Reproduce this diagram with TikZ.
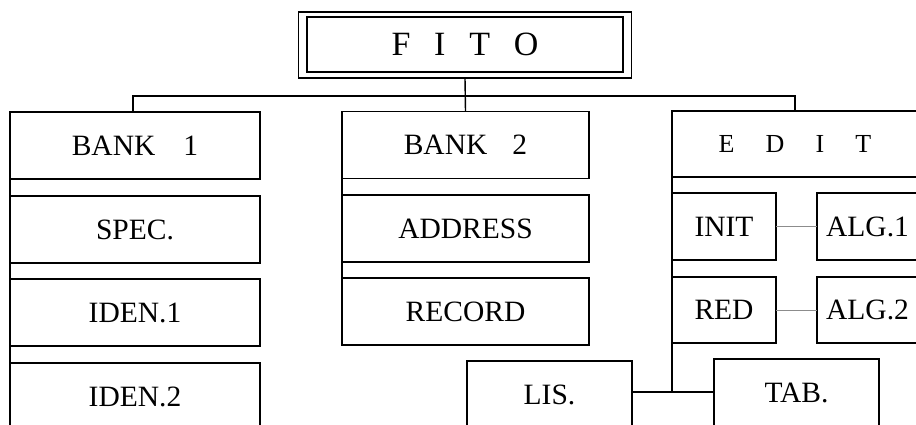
\documentclass[tikz,border=0pt]{standalone}
\usepackage{fontspec}
\setmainfont{Liberation Serif}
\begin{document}
\begin{tikzpicture}[x=1pt,y=-1pt,
  box/.style={draw, line width=1.4pt, inner sep=0pt, outer sep=0pt, minimum height=67pt,
    font=\fontsize{29.5}{32}\selectfont},
  conn/.style={line width=1.4pt},
  faint/.style={draw=black!45, line width=0.7pt}]
\useasboundingbox (0,0) rectangle (916,424);
\clip (0,0) rectangle (916,424);
% title
\node[draw, line width=1.4pt, outer sep=0pt, minimum width=333pt, minimum height=66pt] (fitoout) at (465,45) {};
\node[draw, line width=1.4pt, inner sep=0pt, outer sep=0pt, minimum width=316pt, minimum height=55pt,
  font=\fontsize{34}{36}\selectfont] (fito) at (465,44.5)
  {F\hspace{0.7em}I\hspace{0.7em}T\hspace{0.7em}O};
% column 1
\node[box, minimum width=250pt] (bank1) at (135,145.5) {BANK\hspace{0.95em}1};
\node[box, minimum width=250pt] (spec) at (135,229.5) {SPEC.};
\node[box, minimum width=250pt] (iden1) at (135,312.5) {IDEN.1};
\node[box, minimum width=250pt] (iden2) at (135,396.5) {IDEN.2};
% column 2
\node[box, minimum width=247pt] (bank2) at (465.5,145) {BANK\hspace{0.85em}2};
\node[box, minimum width=247pt] (address) at (465.5,228.5) {ADDRESS};
\node[box, minimum width=247pt] (record) at (465.5,311.5) {RECORD};
% column 3
\node[box, minimum width=246pt, minimum height=66pt, font=\fontsize{26}{28}\selectfont] (edit) at (795,144)
  {E\hspace{1.2em}D\hspace{1.2em}I\hspace{1.2em}T};
\node[box, minimum width=104pt] (init) at (724,226.5) {INIT};
\node[box, minimum width=101pt] (alg1) at (867.5,226.5) {ALG.1};
\node[box, minimum width=104pt, minimum height=66pt] (red) at (724,310) {RED};
\node[box, minimum width=101pt, minimum height=66pt] (alg2) at (867.5,310) {ALG.2};
% bottom
\node[box, minimum width=165pt] (lis) at (549.5,394.5) {LIS.};
\node[box, minimum width=165pt] (tab) at (796.5,392.5) {TAB.};
% connectors
\coordinate (hl) at (133,96);
\coordinate (hr) at (795,96);
\coordinate (b1top) at (133,112);
\coordinate (j) at (672,392);
\draw[conn] (fitoout.south) -- (bank2.north);
\draw[conn] (b1top) -- (hl) -- (hr) -- (edit.north);
\draw[conn] (bank1.north west) -- (iden2.south west);
\draw[conn] (bank2.north west) -- (record.south west);
\draw[conn] (edit.north west) -- (j);
\draw[conn] (lis.east |- j) -- (tab.west |- j);
\draw[faint] (init) -- (alg1);
\draw[faint] (red) -- (alg2);
\end{tikzpicture}
\end{document}
